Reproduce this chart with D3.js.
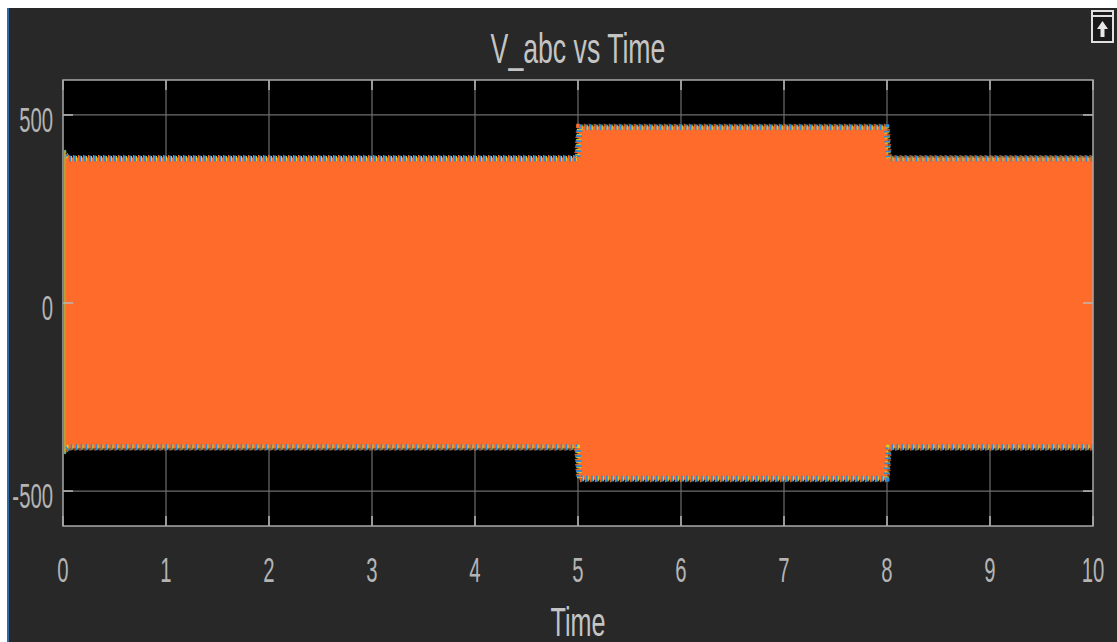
<!DOCTYPE html>
<html>
<head>
<meta charset="utf-8">
<script src="https://cdn.jsdelivr.net/npm/d3@7"></script>
<style>
  html, body { margin: 0; padding: 0; background: #fff; }
  svg { display: block; }
  text { font-family: "Liberation Sans", Arial, sans-serif; }
</style>
</head>
<body>
<svg id="chart" width="1117" height="642"></svg>
<script>
// envelope of the three phase voltages (V)
var envTime  = [0, 0.02, 0.05, 4.995, 5.015, 7.995, 8.015, 10];
var envUpper = [407, 396, 387, 387, 470, 470, 387, 387];
var envLower = [-401, -393, -386, -386, -470, -470, -386, -386];

var xTicks = [0, 1, 2, 3, 4, 5, 6, 7, 8, 9, 10];
var yTicks = [-500, 0, 500];

var titleText = "V_abc vs Time";
var xLabel = "Time";

var W = 1117, H = 642;
var plot = {left: 63, top: 80, right: 1093, bottom: 526};

var svg = d3.select("#chart");

// figure background + window edges
svg.append("rect").attr("width", W).attr("height", H).attr("fill", "#282828");
svg.append("rect").attr("x", 0).attr("y", 0).attr("width", W).attr("height", 8).attr("fill", "#ffffff");
svg.append("rect").attr("x", 0).attr("y", 0).attr("width", 7).attr("height", H).attr("fill", "#ffffff");
svg.append("line").attr("x1", 8).attr("x2", 8).attr("y1", 8).attr("y2", H)
	.attr("stroke", "#2f80cc").attr("stroke-width", 1.5);

var x = d3.scaleLinear().domain([0, 10]).range([plot.left, plot.right]);
var y = d3.scaleLinear().domain([-593, 593]).range([plot.bottom, plot.top]);

// axes box
svg.append("rect")
	.attr("x", plot.left).attr("y", plot.top)
	.attr("width", plot.right - plot.left).attr("height", plot.bottom - plot.top)
	.attr("fill", "#000000");

var grid = svg.append("g").attr("class", "grid");
grid.selectAll("line.gx").data(xTicks.slice(1, -1)).enter().append("line")
	.attr("class", "gx")
	.attr("x1", function (d) { return x(d); }).attr("x2", function (d) { return x(d); })
	.attr("y1", plot.top).attr("y2", plot.bottom)
	.attr("stroke", "#6e6e6e").attr("stroke-width", 1.2);
grid.selectAll("line.gy").data(yTicks).enter().append("line")
	.attr("class", "gy")
	.attr("x1", plot.left).attr("x2", plot.right)
	.attr("y1", function (d) { return y(d); }).attr("y2", function (d) { return y(d); })
	.attr("stroke", "#6e6e6e").attr("stroke-width", 1.2);

// signal envelope
var env = envTime.map(function (t, i) { return {t: t, hi: envUpper[i], lo: envLower[i]}; });

var sig = svg.append("g").attr("clip-path", "url(#clipPlot)");
svg.append("clipPath").attr("id", "clipPlot").append("rect")
	.attr("x", plot.left + 1).attr("y", plot.top).attr("width", plot.right - plot.left - 1).attr("height", plot.bottom - plot.top);

sig.append("path").datum(env)
	.attr("fill", "#ff6b2a")
	.attr("d", d3.area()
		.x(function (d) { return x(d.t); })
		.y0(function (d) { return y(d.lo); })
		.y1(function (d) { return y(d.hi); }));

// coloured fringe of the a/b/c phases along the peaks
var fringe = [
	{color: "#2d8bd6", dash: "2 3", off: 0, w: 6},
	{color: "#d9cf2a", dash: "1 4", off: 3, w: 5},
	{color: "#ff6b2a", dash: "1 4", off: 1, w: 7}
];
var upperLine = d3.line().x(function (d) { return x(d.t); }).y(function (d) { return y(d.hi) + 1; });
var lowerLine = d3.line().x(function (d) { return x(d.t); }).y(function (d) { return y(d.lo) - 1; });
fringe.forEach(function (f) {
	[upperLine, lowerLine].forEach(function (ln) {
		sig.append("path").datum(env)
			.attr("fill", "none")
			.attr("stroke", f.color)
			.attr("stroke-width", f.w)
			.attr("stroke-dasharray", f.dash)
			.attr("stroke-dashoffset", f.off)
			.attr("d", ln);
	});
});

// start-up transient edge
sig.append("line")
	.attr("x1", x(0) + 2).attr("x2", x(0) + 2)
	.attr("y1", y(envUpper[0])).attr("y2", y(envLower[0]))
	.attr("stroke", "#9fb03a").attr("stroke-width", 1.5);

// inward ticks on all four sides
var tk = svg.append("g").attr("stroke", "#b8b8b8").attr("stroke-width", 1.5);
xTicks.forEach(function (d) {
	tk.append("line").attr("x1", x(d)).attr("x2", x(d)).attr("y1", plot.bottom).attr("y2", plot.bottom - 10);
	tk.append("line").attr("x1", x(d)).attr("x2", x(d)).attr("y1", plot.top).attr("y2", plot.top + 10);
});
yTicks.forEach(function (d) {
	tk.append("line").attr("x1", plot.left).attr("x2", plot.left + 10).attr("y1", y(d)).attr("y2", y(d));
	tk.append("line").attr("x1", plot.right).attr("x2", plot.right - 10).attr("y1", y(d)).attr("y2", y(d));
});

svg.append("rect")
	.attr("x", plot.left).attr("y", plot.top)
	.attr("width", plot.right - plot.left).attr("height", plot.bottom - plot.top)
	.attr("fill", "none").attr("stroke", "#a8a8a8").attr("stroke-width", 1.5);

// labels (the scope font is tall and narrow)
function label(txt, cx, base, size, sx, anchor, color) {
	svg.append("text")
		.attr("transform", "translate(" + cx + "," + base + ") scale(" + sx + ",1)")
		.attr("text-anchor", anchor)
		.attr("font-size", size)
		.attr("fill", color)
		.text(txt);
}

xTicks.forEach(function (d) {
	label(d, x(d), 582, 35, 0.58, "middle", "#b4b4b4");
});
yTicks.forEach(function (d) {
	label(d, 53, y(d) + 17, 35, 0.58, "end", "#b4b4b4");
});
label(titleText, (plot.left + plot.right) / 2, 63, 43, 0.62, "middle", "#c4c4c4");
label(xLabel, (plot.left + plot.right) / 2, 636, 40, 0.63, "middle", "#c4c4c4");

// undock button in the corner
var btn = svg.append("g");
btn.append("rect").attr("x", 1092).attr("y", 11).attr("width", 21).attr("height", 31)
	.attr("fill", "#1a1a1a").attr("stroke", "#e0e0e0").attr("stroke-width", 2);
btn.append("line").attr("x1", 1093).attr("x2", 1112).attr("y1", 16).attr("y2", 16)
	.attr("stroke", "#e0e0e0").attr("stroke-width", 2);
btn.append("path").attr("d", "M1102.5,21 L1097,29 L1100.5,29 L1100.5,37 L1104.5,37 L1104.5,29 L1108,29 Z")
	.attr("fill", "#e8e8e8");
</script>
</body>
</html>
